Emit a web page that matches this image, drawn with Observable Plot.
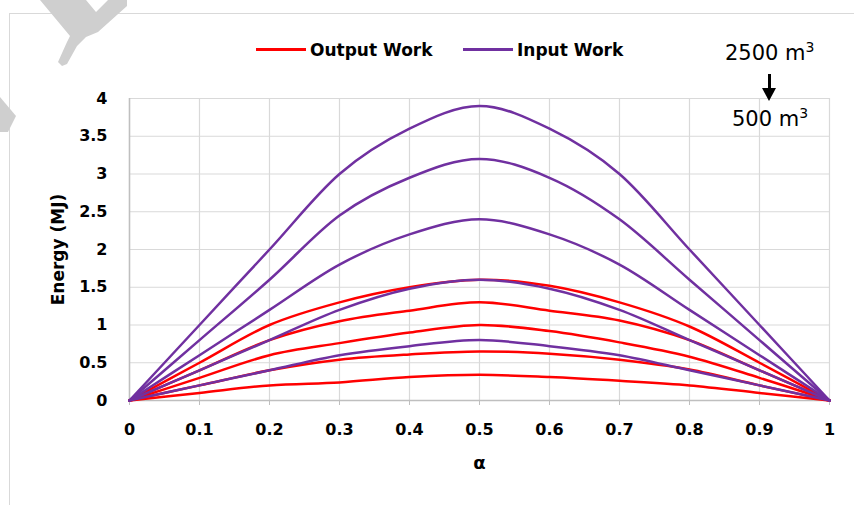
<!DOCTYPE html>
<html>
<head>
<meta charset="utf-8">
<script src="https://cdn.jsdelivr.net/npm/d3@7"></script>
<script src="https://cdn.jsdelivr.net/npm/@observablehq/plot@0.6"></script>
<style>
  html, body { margin: 0; padding: 0; background: #fff; }
  #wrap { position: relative; width: 854px; height: 505px; overflow: hidden; font-family: "DejaVu Sans", sans-serif; }
  #frame { position: absolute; left: 9px; top: 13px; width: 1000px; height: 1000px; border-left: 1px solid #d9d9d9; border-top: 1px solid #d9d9d9; }
  #chart { position: absolute; left: 0; top: 0; }
  .lg { position: absolute; font-weight: bold; font-size: 17px; line-height: 17px; white-space: nowrap; color: #000; }
  .sw { position: absolute; height: 2.5px; width: 50px; }
  .ann { position: absolute; font-size: 21px; line-height: 21px; white-space: nowrap; color: #000; }
  .ann sup { font-size: 14px; vertical-align: 8px; line-height: 0; }
  #wm { position: absolute; left: 0; top: 0; width: 140px; height: 140px; background: #cfcfcf;
        clip-path: polygon(40px 0px, 86px 0px, 96px 12px, 108px 0px, 127px 0px, 127px 6px, 98px 32px, 86px 37px, 77px 46px, 67px 64px, 62px 66px, 58px 62px, 67px 42px, 70px 36px); }
  #wm2 { position: absolute; left: 0; top: 0; width: 40px; height: 140px; background: #cfcfcf;
        clip-path: polygon(0px 97px, 16px 116px, 8px 132px, 0px 132px); }
  #stem { position: absolute; left: 768px; top: 74px; width: 2.5px; height: 16px; background: #000; }
  #head { position: absolute; left: 762px; top: 88px; width: 0; height: 0; border-left: 7.5px solid transparent; border-right: 7.5px solid transparent; border-top: 13px solid #000; }
</style>
</head>
<body>
<div id="wrap">
  <div id="frame"></div>
  <div id="chart"></div>
  <div class="sw" style="left:256px; top:48px; background:#ff0000;"></div>
  <div class="lg" style="left:310px; top:42px;">Output Work</div>
  <div class="sw" style="left:463px; top:48px; background:#7030a0;"></div>
  <div class="lg" style="left:517px; top:42px;">Input Work</div>
  <div class="ann" style="left:725px; top:43px;">2500 m<sup>3</sup></div>
  <div id="stem"></div>
  <div id="head"></div>
  <div class="ann" style="left:732px; top:109px;">500 m<sup>3</sup></div>
  <div id="wm"></div>
  <div id="wm2"></div>
</div>
<script>
// α values (x)
const alpha = [0, 0.1, 0.2, 0.3, 0.4, 0.5, 0.6, 0.7, 0.8, 0.9, 1];

// Output Work (MJ), volumes 2500 → 500 m³
const output2500 = [0, 0.5, 1.0, 1.3, 1.5, 1.6, 1.52, 1.3, 0.98, 0.5, 0];
const output2000 = [0, 0.4, 0.8, 1.05, 1.19, 1.3, 1.19, 1.06, 0.8, 0.4, 0];
const output1500 = [0, 0.3, 0.6, 0.76, 0.9, 1.0, 0.92, 0.77, 0.58, 0.3, 0];
const output1000 = [0, 0.2, 0.4, 0.54, 0.61, 0.65, 0.62, 0.54, 0.41, 0.2, 0];
const output500  = [0, 0.1, 0.2, 0.24, 0.31, 0.34, 0.31, 0.26, 0.2, 0.1, 0];

// Input Work (MJ), volumes 2500 → 500 m³
const input2500 = [0, 1.0, 2.0, 3.0, 3.6, 3.9, 3.6, 3.0, 2.0, 1.0, 0];
const input2000 = [0, 0.8, 1.6, 2.45, 2.95, 3.2, 2.95, 2.4, 1.6, 0.8, 0];
const input1500 = [0, 0.6, 1.2, 1.8, 2.2, 2.4, 2.2, 1.8, 1.2, 0.6, 0];
const input1000 = [0, 0.4, 0.8, 1.2, 1.48, 1.6, 1.48, 1.2, 0.8, 0.4, 0];
const input500  = [0, 0.2, 0.4, 0.6, 0.72, 0.8, 0.72, 0.6, 0.4, 0.2, 0];

const seriesTypes = ["Output Work", "Input Work"];
const seriesColors = ["#ff0000", "#7030a0"];

const xTicks = [0, 0.1, 0.2, 0.3, 0.4, 0.5, 0.6, 0.7, 0.8, 0.9, 1];
const xTickLabels = ["0", "0.1", "0.2", "0.3", "0.4", "0.5", "0.6", "0.7", "0.8", "0.9", "1"];
const yTicks = [0, 0.5, 1, 1.5, 2, 2.5, 3, 3.5, 4];
const yTickLabels = ["0", "0.5", "1", "1.5", "2", "2.5", "3", "3.5", "4"];

const seriesList = [
  {name: "out2500", type: "Output Work", values: output2500},
  {name: "out2000", type: "Output Work", values: output2000},
  {name: "out1500", type: "Output Work", values: output1500},
  {name: "out1000", type: "Output Work", values: output1000},
  {name: "out500",  type: "Output Work", values: output500},
  {name: "in2500",  type: "Input Work",  values: input2500},
  {name: "in2000",  type: "Input Work",  values: input2000},
  {name: "in1500",  type: "Input Work",  values: input1500},
  {name: "in1000",  type: "Input Work",  values: input1000},
  {name: "in500",   type: "Input Work",  values: input500}
];
const rows = seriesList.flatMap(s => s.values.map((v, i) => ({alpha: alpha[i], energy: v, series: s.name, type: s.type})));

const chart = Plot.plot({
  width: 854,
  height: 505,
  marginLeft: 129,
  marginRight: 25,
  marginTop: 98,
  marginBottom: 105,
  style: {fontFamily: "DejaVu Sans", fontSize: "16px", fontWeight: "bold", background: "transparent", color: "#000", overflow: "visible"},
  x: {domain: [0, 1]},
  y: {domain: [0, 4]},
  color: {domain: seriesTypes, range: seriesColors},
  marks: [
    Plot.gridX(xTicks, {stroke: "#d9d9d9", strokeOpacity: 1, strokeWidth: 1.2}),
    Plot.gridY(yTicks, {stroke: "#d9d9d9", strokeOpacity: 1, strokeWidth: 1.2}),
    Plot.ruleY([0], {stroke: "#bfbfbf", strokeWidth: 1.5}),
    Plot.ruleX([0], {stroke: "#bfbfbf", strokeWidth: 1.5}),
    Plot.axisX(xTicks, {tickSize: 5, tickPadding: 18, stroke: "#bfbfbf", fill: "#000", fontSize: 16, fontWeight: "bold",
      tickFormat: (d, i) => xTickLabels[i], label: null}),
    Plot.axisY(yTicks, {tickSize: 0, tickPadding: 22, fill: "#000", fontSize: 16, fontWeight: "bold",
      tickFormat: (d, i) => yTickLabels[i], label: null}),
    Plot.line(rows, {x: "alpha", y: "energy", z: "series", stroke: "type", strokeWidth: 2.5, curve: "cardinal", tension: 0}),
    Plot.text(["Energy (MJ)"], {frameAnchor: "left", dx: -71, rotate: -90, textAnchor: "middle", fontSize: 17, fontWeight: "bold", fill: "#000"}),
    Plot.text(["α"], {frameAnchor: "bottom", dy: 68, textAnchor: "middle", fontSize: 18, fontWeight: "bold", fill: "#000"})
  ]
});
document.getElementById("chart").appendChild(chart);
</script>
</body>
</html>
